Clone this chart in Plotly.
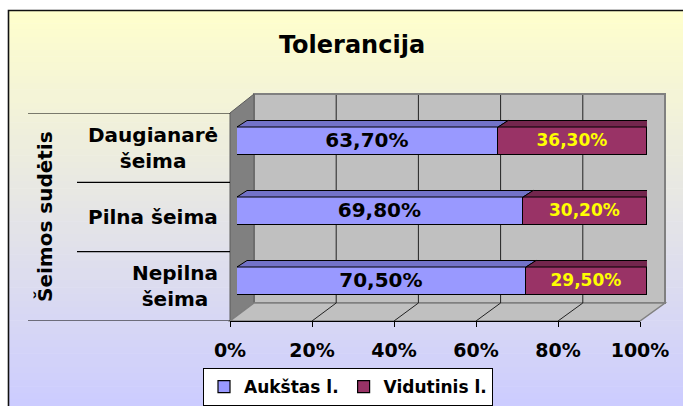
import plotly.graph_objects as go

# ---------------- data ----------------
categories = ["Nepilna šeima", "Pilna šeima", "Daugianarė šeima"]   # bottom -> top
category_labels = ["Nepilna<br>šeima", "Pilna šeima", "Daugianarė<br>šeima"]
series_names = ["Aukštas l.", "Vidutinis l."]
aukstas = [70.5, 69.8, 63.7]
vidutinis = [29.5, 30.2, 36.3]
x_ticks = [0, 20, 40, 60, 80, 100]
x_tick_labels = ["0%", "20%", "40%", "60%", "80%", "100%"]
title_text = "Tolerancija"
axis_title = "Šeimos sudėtis"

# ---------------- style ----------------
W, H = 683, 406
FONT = "DejaVu Sans"
C_BLUE, C_BLUE_TOP = "#9999FF", "#7272C8"
C_MAR, C_MAR_TOP, C_MAR_SIDE = "#993366", "#73264D", "#4D1A33"
BAR_W = 0.4
DX = 10 / 410 * 100     # 3D depth offset in x units
DY = 6.5 / 70           # 3D depth offset in category units


def px(x):
    return x / W


def py(y):
    return 1 - y / H


def lab(v):
    return f"{v:.2f}".replace(".", ",") + "%"


fig = go.Figure()
series_vals = [aukstas, vidutinis]
colors = [C_BLUE, C_MAR]
text_colors = ["black", "#FFFF00"]
text_sizes = [20, 17]
for name, vals, col, tc, ts in zip(series_names, series_vals, colors, text_colors, text_sizes):
    fig.add_trace(go.Bar(
        y=categories, x=vals, name=name, orientation="h", width=BAR_W,
        marker=dict(color=col, line=dict(color="black", width=1.2)),
        text=[lab(v) for v in vals], textposition="inside", insidetextanchor="middle",
        textangle=0, constraintext="none",
        textfont=dict(family=FONT, size=ts, color=tc, weight="bold"),
        hoverinfo="skip",
    ))

shapes = []
# background gradient inside the frame
top_c = (0xFF, 0xFF, 0xCC)
bot_c = (0xCC, 0xCC, 0xFF)
steps = 60
y_start, y_end = 10, H
for k in range(steps):
    t = (k + 0.5) / steps
    c = tuple(round(a + (b - a) * t) for a, b in zip(top_c, bot_c))
    y0 = y_start + (y_end - y_start) * k / steps
    y1 = y_start + (y_end - y_start) * (k + 1) / steps + 0.6
    shapes.append(dict(type="rect", xref="paper", yref="paper", layer="below",
                       x0=px(8), x1=px(W + 5), y0=py(y0), y1=py(y1),
                       fillcolor="rgb(%d,%d,%d)" % c, line=dict(width=0)))
# frame
shapes.append(dict(type="rect", xref="paper", yref="paper", layer="below",
                   x0=px(8.5), x1=px(W + 10), y0=py(10.5), y1=py(H + 10),
                   line=dict(color="#111111", width=1.6)))

# 3D walls
BW_L, BW_R, BW_T, BW_B = 254, 665, 94, 303
FR_L, FR_R, FR_B, FR_T = 230, 640, 321, 113


def poly(pts, fill, line_col, lw=1):
    d = "M " + " L ".join(f"{px(x):.5f},{py(y):.5f}" for x, y in pts) + " Z"
    return dict(type="path", xref="paper", yref="paper", layer="below", path=d,
                fillcolor=fill, line=dict(color=line_col, width=lw))


shapes.append(poly([(BW_L, BW_T), (BW_R, BW_T), (BW_R, BW_B), (BW_L, BW_B)], "#C0C0C0", "#808080", 2))
shapes.append(poly([(FR_L, FR_T), (BW_L, BW_T), (BW_L, BW_B), (FR_L, FR_B)], "#808080", "#5A5A5A", 1))
shapes.append(poly([(FR_L, FR_B), (BW_L, BW_B), (BW_R, BW_B), (FR_R, FR_B)], "#C0C0C0", "#808080", 1.5))
# gridlines on back wall and floor
for v in x_ticks[1:-1]:
    xb = BW_L + v / 100 * (BW_R - BW_L)
    xf = FR_L + v / 100 * (FR_R - FR_L)
    shapes.append(dict(type="line", xref="paper", yref="paper", layer="below",
                       x0=px(xb), x1=px(xb), y0=py(BW_T + 1), y1=py(BW_B),
                       line=dict(color="#222222", width=1)))
    shapes.append(dict(type="line", xref="paper", yref="paper", layer="below",
                       x0=px(xf), x1=px(xb), y0=py(FR_B), y1=py(BW_B),
                       line=dict(color="#222222", width=1)))

# category separators (front category axis)
n = len(categories)
for i in range(n + 1):
    x0 = 28 if i in (0, n) else 77
    shapes.append(dict(type="line", xref="paper", yref="y2", layer="above",
                       x0=px(x0), x1=px(FR_L), y0=i - 0.5, y1=i - 0.5,
                       line=dict(color="black", width=1.2)))

# bar top and side faces (3D)
top_cols = [C_BLUE_TOP, C_MAR_TOP]
for i in range(n):
    cum = 0
    yt = i + BAR_W / 2
    yb = i - BAR_W / 2
    for j, vals in enumerate(series_vals):
        a, b = cum, cum + vals[i]
        cum = b
        d = f"M {a},{yt} L {b},{yt} L {b + DX},{yt + DY} L {a + DX},{yt + DY} Z"
        shapes.append(dict(type="path", xref="x", yref="y", layer="above", path=d,
                           fillcolor=top_cols[j], line=dict(color="black", width=1)))
    d = f"M {cum},{yb} L {cum},{yt} L {cum + DX},{yt + DY} L {cum + DX},{yb + DY} Z"
    shapes.append(dict(type="path", xref="x", yref="y", layer="above", path=d,
                       fillcolor=C_MAR_SIDE, line=dict(color="black", width=1)))

annotations = []
for i, name in enumerate(category_labels):
    annotations.append(dict(text=name, xref="paper", yref="y2", x=px(220), y=i,
                            xanchor="right", yanchor="middle", align="center", showarrow=False,
                            font=dict(family=FONT, size=20, color="black", weight="bold")))
annotations.append(dict(text=axis_title, xref="paper", yref="y2 domain", x=px(45), y=0.5,
                        textangle=-90, xanchor="center", yanchor="middle", showarrow=False,
                        font=dict(family=FONT, size=20, color="black", weight="bold")))

fig.update_layout(
    template="none",
    width=W, height=H, autosize=False,
    margin=dict(l=0, r=0, t=0, b=0, pad=0, autoexpand=False),
    paper_bgcolor="white", plot_bgcolor="rgba(0,0,0,0)",
    barmode="stack", bargap=0,
    title=dict(text=title_text, x=px(352), y=py(45), xanchor="center", yanchor="middle",
               xref="paper", yref="paper",
               font=dict(family=FONT, size=24, color="black", weight="bold")),
    xaxis=dict(domain=[px(237), px(647)], range=[0, 100], anchor="y", visible=False,
               automargin=False),
    yaxis=dict(domain=[py(316), py(106)], type="category", categoryarray=categories,
               categoryorder="array", range=[-0.5, n - 0.5], anchor="x", visible=False,
               automargin=False),
    xaxis2=dict(domain=[px(FR_L), px(FR_R)], range=[0, 100], anchor="y2", automargin=False,
                tickvals=x_ticks, ticktext=x_tick_labels, ticks="outside", ticklen=5,
                tickcolor="black", tickwidth=1, showline=True, linecolor="black", linewidth=1.2,
                showgrid=False, zeroline=False, ticklabelstandoff=7,
                tickfont=dict(family=FONT, size=19, color="black", weight="bold")),
    yaxis2=dict(domain=[py(FR_B), py(FR_T)], range=[-0.5, n - 0.5], anchor="x2",
                visible=False, automargin=False),
    shapes=shapes, annotations=annotations,
    showlegend=True,
    legend=dict(orientation="h", x=px(203), y=py(368), xanchor="left", yanchor="top",
                bgcolor="white", bordercolor="black", borderwidth=1, itemwidth=30,
                traceorder="normal",
                font=dict(family=FONT, size=17, color="black", weight="bold")),
)

fig.write_html(
    "out.html",
    config={"displayModeBar": False},
    post_script=("document.body.style.margin='0px';"
                 "document.body.style.overflow='hidden';"
                 "document.documentElement.style.overflow='hidden';"),
)
